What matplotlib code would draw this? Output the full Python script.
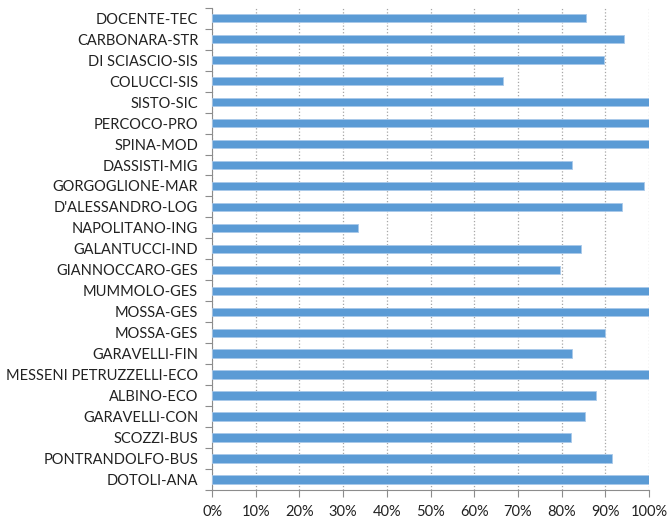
import numpy as np
import matplotlib.pyplot as plt
from matplotlib.ticker import PercentFormatter

labels = [
    "DOCENTE-TEC", "CARBONARA-STR", "DI SCIASCIO-SIS", "COLUCCI-SIS",
    "SISTO-SIC", "PERCOCO-PRO", "SPINA-MOD", "DASSISTI-MIG",
    "GORGOGLIONE-MAR", "D'ALESSANDRO-LOG", "NAPOLITANO-ING", "GALANTUCCI-IND",
    "GIANNOCCARO-GES", "MUMMOLO-GES", "MOSSA-GES", "MOSSA-GES",
    "GARAVELLI-FIN", "MESSENI PETRUZZELLI-ECO", "ALBINO-ECO", "GARAVELLI-CON",
    "SCOZZI-BUS", "PONTRANDOLFO-BUS", "DOTOLI-ANA",
]
values = [
    85.7, 94.4, 89.7, 66.6,
    100, 100, 100, 82.3,
    98.9, 93.8, 33.3, 84.5,
    79.7, 100, 100, 89.9,
    82.3, 100, 87.9, 85.4,
    82.2, 91.6, 100,
]

plt.rcParams['font.family'] = ['Lato', 'DejaVu Sans']

fig = plt.figure(figsize=(6.69, 5.19), dpi=100)
ax = fig.add_axes([0.317, 0.056, 0.653, 0.929])

y = np.arange(len(labels))
ax.barh(y, values, height=0.4, color='#5B9BD5', edgecolor='#A9C9EA',
        linewidth=0.6, zorder=3)

ax.set_xlim(0, 100)
ax.set_ylim(len(labels) - 0.5, -0.5)
ax.set_xticks(np.arange(0, 101, 10))
ax.xaxis.set_major_formatter(PercentFormatter(decimals=0))
ax.set_yticks(y)
ax.set_yticklabels(labels)
ax.set_yticks(np.arange(-0.5, len(labels), 1), minor=True)

ax.tick_params(axis='y', which='major', length=0, pad=10, labelsize=10.5,
               labelcolor='#222222')
ax.tick_params(axis='y', which='minor', length=5, color='#8C8C8C', width=0.8)
ax.tick_params(axis='x', length=5, color='#8C8C8C', width=0.8, labelsize=10.5,
               labelcolor='#222222', pad=6)

ax.grid(axis='x', linestyle=':', color='#A6A6A6', linewidth=0.9, zorder=0)
for s in ['top', 'right']:
    ax.spines[s].set_visible(False)
for s in ['left', 'bottom']:
    ax.spines[s].set_color('#8C8C8C')
    ax.spines[s].set_linewidth(0.8)

fig.savefig("out.png", dpi=100)
